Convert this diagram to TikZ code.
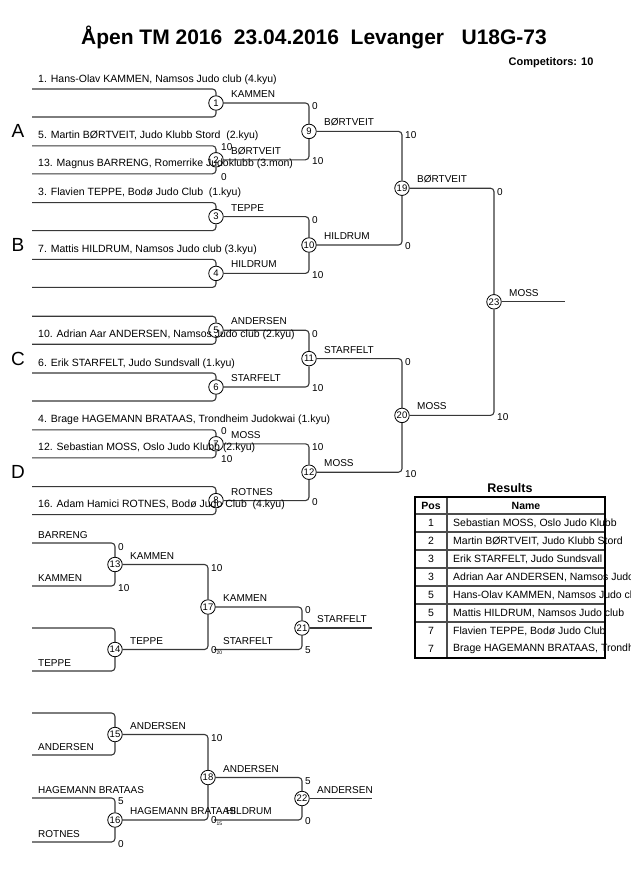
\documentclass[tikz,border=0pt]{standalone}
\usepackage{fontspec}
\setmainfont{Liberation Sans}
\usetikzlibrary{calc}
\begin{document}
\begin{tikzpicture}[x=1pt,y=-1pt,
  ln/.style={draw=black!78, line width=1.1pt, rounded corners=3.5pt},
  mc/.style={circle, draw=black, line width=0.8pt, fill=white, inner sep=0.3pt, minimum size=14.5pt, font=\fontsize{9.5}{10}\selectfont},
  nm/.style={anchor=base west, inner sep=0pt, font=\fontsize{10.5}{12}\selectfont},
  wn/.style={anchor=base west, inner sep=0pt, font=\fontsize{10}{12}\selectfont},
  sc/.style={anchor=west, inner sep=0pt, font=\fontsize{10}{12}\selectfont},
  smallno/.style={anchor=west, inner sep=0pt, font=\fontsize{5}{6}\selectfont},
  grp/.style={font=\fontsize{19}{22}\selectfont},
  tb/.style={draw=black, line width=2pt},
  tl/.style={draw=black!70, line width=1.2pt},
  cellc/.style={inner sep=0pt, font=\fontsize{10.5}{12}\selectfont},
  cellw/.style={anchor=west, inner sep=0pt, font=\fontsize{10.5}{12}\selectfont},
]
\useasboundingbox (0,0) rectangle (630,891);

% Title
\node[font=\bfseries\fontsize{21}{24}\selectfont] (title) at (314,37) {Åpen TM 2016\ \ 23.04.2016\ \ Levanger\ \ \ U18G-73};
\node[anchor=east, font=\bfseries\fontsize{11}{12}\selectfont] (comp) at (597,63) {Competitors: 10};

% ---------- main bracket ----------
\foreach \k in {1,...,8}{
  \pgfmathsetmacro\yt{89+(\k-1)*56.8}
  \coordinate (t\k) at (32,\yt);
  \coordinate (b\k) at (32,\yt+28);
  \node[mc] (m\k) at (216,\yt+14) {\k};
}
\node[mc] (m9)  at (309,131.4) {9};
\node[mc] (m10) at (309,245.0) {10};
\node[mc] (m11) at (309,358.6) {11};
\node[mc] (m12) at (309,472.2) {12};
\node[mc] (m19) at (402,188.2) {19};
\node[mc] (m20) at (402,415.4) {20};
\node[mc] (m23) at (494,301.8) {23};
\coordinate (fin) at (565,301.8);

\foreach \k in {1,...,8}{
  \draw[ln] (t\k) -| (m\k);
  \draw[ln] (b\k) -| (m\k);
}
\draw[ln] (m1) -| (m9);  \draw[ln] (m2) -| (m9);
\draw[ln] (m3) -| (m10); \draw[ln] (m4) -| (m10);
\draw[ln] (m5) -| (m11); \draw[ln] (m6) -| (m11);
\draw[ln] (m7) -| (m12); \draw[ln] (m8) -| (m12);
\draw[ln] (m9) -| (m19); \draw[ln] (m10) -| (m19);
\draw[ln] (m11) -| (m20); \draw[ln] (m12) -| (m20);
\draw[ln] (m19) -| (m23); \draw[ln] (m20) -| (m23);
\draw[ln] (m23) -- (fin);

% group letters
\node[grp] (gA) at (18,131.4) {A};
\node[grp] (gB) at (18,245.0) {B};
\node[grp] (gC) at (18,358.6) {C};
\node[grp] (gD) at (18,472.2) {D};

% competitor names
\node[nm] (n1)  at (38,82.0)  {1. Hans-Olav KAMMEN, Namsos Judo club (4.kyu)};
\node[nm] (n2a) at (38,138.8) {5. Martin BØRTVEIT, Judo Klubb Stord\ \ (2.kyu)};
\node[nm] (n2b) at (38,166.8) {13. Magnus BARRENG, Romerrike Judoklubb (3.mon)};
\node[nm] (n3)  at (38,195.6) {3. Flavien TEPPE, Bodø Judo Club\ \ (1.kyu)};
\node[nm] (n4)  at (38,252.4) {7. Mattis HILDRUM, Namsos Judo club (3.kyu)};
\node[nm] (n5)  at (38,337.2) {10. Adrian Aar ANDERSEN, Namsos Judo club (2.kyu)};
\node[nm] (n6)  at (38,366.0) {6. Erik STARFELT, Judo Sundsvall (1.kyu)};
\node[nm] (n7a) at (38,422.8) {4. Brage HAGEMANN BRATAAS, Trondheim Judokwai (1.kyu)};
\node[nm] (n7b) at (38,450.8) {12. Sebastian MOSS, Oslo Judo Klubb (2.kyu)};
\node[nm] (n8)  at (38,507.6) {16. Adam Hamici ROTNES, Bodø Judo Club\ \ (4.kyu)};

% winner labels
\node[wn] (w1) at (231,97.5)  {KAMMEN};
\node[wn] (w2) at (231,154.3) {BØRTVEIT};
\node[wn] (w3) at (231,211.1) {TEPPE};
\node[wn] (w4) at (231,267.9) {HILDRUM};
\node[wn] (w5) at (231,324.7) {ANDERSEN};
\node[wn] (w6) at (231,381.5) {STARFELT};
\node[wn] (w7) at (231,438.3) {MOSS};
\node[wn] (w8) at (231,495.1) {ROTNES};
\node[wn] (w9)  at (324,125.9) {BØRTVEIT};
\node[wn] (w10) at (324,239.5) {HILDRUM};
\node[wn] (w11) at (324,353.1) {STARFELT};
\node[wn] (w12) at (324,466.7) {MOSS};
\node[wn] (w19) at (417,182.7) {BØRTVEIT};
\node[wn] (w20) at (417,409.9) {MOSS};
\node[wn] (w23) at (509,296.3) {MOSS};

% scores
\node[sc] (s2a) at (221,147.5) {10};
\node[sc] (s2b) at (221,177.0) {0};
\node[sc] (s7a) at (221,431.5) {0};
\node[sc] (s7b) at (221,459.5) {10};
\node[sc] (s9a)  at (312,106.5) {0};
\node[sc] (s9b)  at (312,161.3) {10};
\node[sc] (s10a) at (312,220.1) {0};
\node[sc] (s10b) at (312,274.9) {10};
\node[sc] (s11a) at (312,333.7) {0};
\node[sc] (s11b) at (312,388.5) {10};
\node[sc] (s12a) at (312,447.3) {10};
\node[sc] (s12b) at (312,502.1) {0};
\node[sc] (s19a) at (405,134.9) {10};
\node[sc] (s19b) at (405,246.5) {0};
\node[sc] (s20a) at (405,362.1) {0};
\node[sc] (s20b) at (405,473.7) {10};
\node[sc] (s23a) at (497,191.7) {0};
\node[sc] (s23b) at (497,416.9) {10};

% ---------- repechage 1 ----------
\coordinate (r13t) at (32,543);
\coordinate (r13b) at (32,586);
\coordinate (r14t) at (32,628);
\coordinate (r14b) at (32,671);
\node[mc] (m13) at (115,564.5) {13};
\node[mc] (m14) at (115,649.5) {14};
\node[mc] (m17) at (208,607) {17};
\node[mc] (m21) at (302,628) {21};
\coordinate (in21) at (214,649.5);
\coordinate (e21) at (372,628);
\draw[ln] (r13t) -| (m13); \draw[ln] (r13b) -| (m13);
\draw[ln] (r14t) -| (m14); \draw[ln] (r14b) -| (m14);
\draw[ln] (m13) -| (m17); \draw[ln] (m14) -| (m17);
\draw[ln] (m17) -| (m21); \draw[ln] (in21) -| (m21);
\draw[ln] (m21) -- (e21);

\node[wn] (rn13a) at (38,538) {BARRENG};
\node[wn] (rn13b) at (38,581) {KAMMEN};
\node[wn] (rn14b) at (38,666) {TEPPE};
\node[wn] (rw13) at (130,559) {KAMMEN};
\node[wn] (rw14) at (130,644) {TEPPE};
\node[wn] (rw17) at (223,601.5) {KAMMEN};
\node[wn] (rwi21) at (223,644) {STARFELT};
\node[wn] (rw21) at (317,622.5) {STARFELT};
\node[sc] (rs13a) at (118,547) {0};
\node[sc] (rs13b) at (118,588) {10};
\node[sc] (rs17a) at (211,568) {10};
\node[sc] (rs17b) at (211,650) {0};
\node[smallno] (rs17t) at (216.5,653) {20};
\node[sc] (rs21a) at (305,610.5) {0};
\node[sc] (rs21b) at (305,650) {5};

% ---------- repechage 2 ----------
\coordinate (r15t) at (32,713);
\coordinate (r15b) at (32,755);
\coordinate (r16t) at (32,798);
\coordinate (r16b) at (32,842);
\node[mc] (m15) at (115,734.5) {15};
\node[mc] (m16) at (115,820) {16};
\node[mc] (m18) at (208,777.5) {18};
\node[mc] (m22) at (302,798.5) {22};
\coordinate (in22) at (214,820);
\coordinate (e22) at (372,798.5);
\draw[ln] (r15t) -| (m15); \draw[ln] (r15b) -| (m15);
\draw[ln] (r16t) -| (m16); \draw[ln] (r16b) -| (m16);
\draw[ln] (m15) -| (m18); \draw[ln] (m16) -| (m18);
\draw[ln] (m18) -| (m22); \draw[ln] (in22) -| (m22);
\draw[ln] (m22) -- (e22);

\node[wn] (rn15b) at (38,750) {ANDERSEN};
\node[wn] (rn16a) at (38,793) {HAGEMANN BRATAAS};
\node[wn] (rn16b) at (38,837) {ROTNES};
\node[wn] (rw15) at (130,729) {ANDERSEN};
\node[wn] (rw16) at (130,814.5) {HAGEMANN BRATAAS};
\node[wn] (rw18) at (223,772) {ANDERSEN};
\node[wn] (rwi22) at (226,814.5) {HILDRUM};
\node[wn] (rw22) at (317,793) {ANDERSEN};
\node[sc] (rs16a) at (118,801) {5};
\node[sc] (rs16b) at (118,844) {0};
\node[sc] (rs18a) at (211,738.5) {10};
\node[sc] (rs18b) at (211,820.5) {0};
\node[smallno] (rs18t) at (216.5,823.5) {15};
\node[sc] (rs22a) at (305,781) {5};
\node[sc] (rs22b) at (305,821) {0};

% ---------- results table ----------
\node[font=\bfseries\fontsize{12.5}{14}\selectfont] (restitle) at (510,488) {Results};
\node[cellc, font=\bfseries\fontsize{10.5}{12}\selectfont] (hpos) at (431,505.5) {Pos};
\node[cellc, font=\bfseries\fontsize{10.5}{12}\selectfont] (hname) at (526,505.5) {Name};
\node[cellc] (p1) at (431,523) {1};
\node[cellc] (p2) at (431,541) {2};
\node[cellc] (p3) at (431,559) {3};
\node[cellc] (p4) at (431,577) {3};
\node[cellc] (p5) at (431,595) {5};
\node[cellc] (p6) at (431,613) {5};
\node[cellc] (p7) at (431,631) {7};
\node[cellc] (p8) at (431,649) {7};
\node[cellw] (q1) at (453,523) {Sebastian MOSS, Oslo Judo Klubb};
\node[cellw] (q2) at (453,541) {Martin BØRTVEIT, Judo Klubb Stord};
\node[cellw] (q3) at (453,559) {Erik STARFELT, Judo Sundsvall};
\node[cellw] (q4) at (453,577) {Adrian Aar ANDERSEN, Namsos Judo club};
\node[cellw] (q5) at (453,595) {Hans-Olav KAMMEN, Namsos Judo club};
\node[cellw] (q6) at (453,613) {Mattis HILDRUM, Namsos Judo club};
\node[cellw] (q7) at (453,631) {Flavien TEPPE, Bodø Judo Club};
\node[cellw] (q8) at (453,649) {Brage HAGEMANN BRATAAS, Trondheim Judokwai};
\foreach \i in {0,...,6}{
  \draw[tl] (415,514+18*\i) -- (605,514+18*\i);
}
\draw[tl] (447,497) -- (447,658);
\draw[tb] (415,497) rectangle (605,658);
\end{tikzpicture}
\end{document}
